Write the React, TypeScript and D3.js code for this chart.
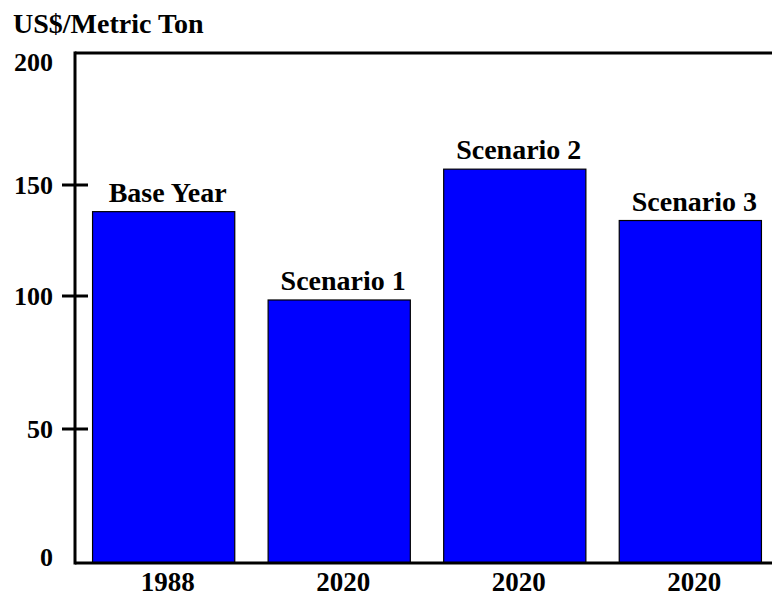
import React from "react";
import * as d3 from "d3";

const categories = ["1988", "2020", "2020", "2020"];
const barLabels = ["Base Year", "Scenario 1", "Scenario 2", "Scenario 3"];
const values = [138, 98.5, 156, 134];
const tickValues = [0, 50, 100, 150, 200];
const yTitle = "US$/Metric Ton";

const W = 772;
const H = 597;
const FONT = "'Liberation Serif', 'Times New Roman', serif";

export default function App() {
  const left = 75;
  const top = 53;
  const bottom = 563;
  // axis in the source is slightly uneven; map each tick to its drawn position
  const y = d3.scaleLinear().domain(tickValues).range([563, 429, 296, 185, 53]);
  const x = d3
    .scaleBand<number>()
    .domain(d3.range(categories.length))
    .range([left, 779])
    .paddingInner(0.19)
    .paddingOuter(0.1);

  return (
    <svg
      width={W}
      height={H}
      style={{ position: "absolute", left: 0, top: 0, background: "#fff" }}
      fontFamily={FONT}
      fontWeight="bold"
    >
      <text x={13} y={33} fontSize={28}>
        {yTitle}
      </text>

      {values.map((v, i) => (
        <rect
          key={"b" + i}
          x={x(i)!}
          y={y(v)}
          width={x.bandwidth()}
          height={y(0) - y(v)}
          fill="#0000ff"
          stroke="#000"
          strokeWidth={1.2}
        />
      ))}

      {values.map((v, i) => (
        <text
          key={"l" + i}
          x={x(i)! + x.bandwidth() / 2 + 4}
          y={y(v) - 10}
          fontSize={28}
          textAnchor="middle"
        >
          {barLabels[i]}
        </text>
      ))}

      {categories.map((c, i) => (
        <text
          key={"c" + i}
          x={x(i)! + x.bandwidth() / 2 + 4}
          y={591}
          fontSize={27}
          textAnchor="middle"
        >
          {c}
        </text>
      ))}

      {/* frame lines */}
      <line x1={left} x2={W} y1={top} y2={top} stroke="#000" strokeWidth={3} />
      <line x1={left} x2={W} y1={bottom} y2={bottom} stroke="#000" strokeWidth={3} />
      <line x1={left} x2={left} y1={top - 1.5} y2={bottom + 1.5} stroke="#000" strokeWidth={3} />

      {tickValues.map((t) => (
        <g key={"t" + t}>
          {t > 0 && t < 200 && (
            <line x1={62} x2={88} y1={y(t)} y2={y(t)} stroke="#000" strokeWidth={3} />
          )}
          <text
            x={53}
            y={Math.max(71, Math.min(566, y(t) + 9))}
            fontSize={26}
            textAnchor="end"
          >
            {t}
          </text>
        </g>
      ))}
    </svg>
  );
}
